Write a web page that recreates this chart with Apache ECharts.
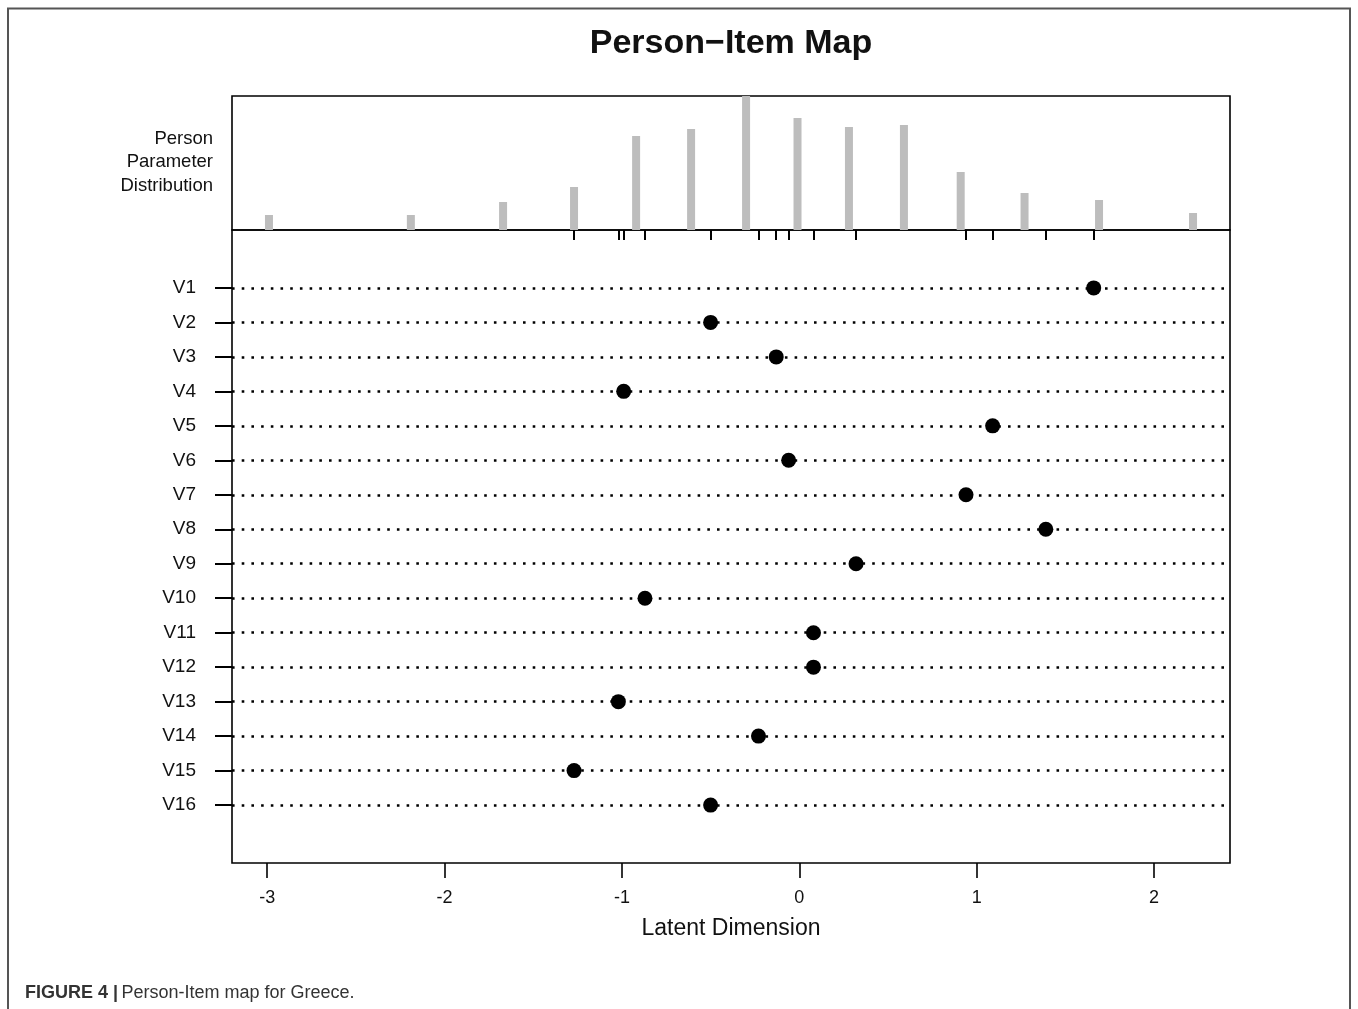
<!DOCTYPE html>
<html>
<head>
<meta charset="utf-8">
<script src="https://cdn.jsdelivr.net/npm/echarts@6/dist/echarts.min.js"></script>
<style>
  html, body { margin: 0; padding: 0; background: #fff; }
  #chart { width: 1358px; height: 1009px; }
</style>
</head>
<body>
<div id="chart"></div>
<script>
// ---- data ----
const itemNames = ['V1','V2','V3','V4','V5','V6','V7','V8','V9','V10','V11','V12','V13','V14','V15','V16'];
const itemLocations = [1.66, -0.50, -0.13, -0.99, 1.09, -0.06, 0.94, 1.39, 0.32, -0.87, 0.08, 0.08, -1.02, -0.23, -1.27, -0.50];
const personParams = [-2.99, -2.19, -1.67, -1.27, -0.92, -0.61, -0.30, -0.01, 0.28, 0.59, 0.91, 1.27, 1.69, 2.22];
const personFreq = [15, 15, 28, 43, 94, 101, 134, 112, 103, 105, 58, 37, 30, 17];
const xTicks = [-3, -2, -1, 0, 1, 2];

// axis range: person parameter range extended by 4% on each side
const pMin = Math.min(...personParams), pMax = Math.max(...personParams);
const ext = (pMax - pMin) * 0.04;
const xMin = pMin - ext, xMax = pMax + ext;
const nItems = itemNames.length;
const yExt = (nItems + 1) * 0.04;
const itemIdx = itemNames.map((_, i) => i + 1);

const FONT = '"Liberation Sans", Arial, sans-serif';
const chart = echarts.init(document.getElementById('chart'));

chart.setOption({
  animation: false,
  backgroundColor: '#fff',
  grid: [
    { left: 232, right: 128, top: 96, height: 134, show: true, borderColor: '#000', borderWidth: 1.6, backgroundColor: 'transparent' },
    { left: 232, right: 128, top: 230, height: 633, show: true, borderColor: '#000', borderWidth: 1.6, backgroundColor: 'transparent' }
  ],
  xAxis: [
    {
      gridIndex: 0, type: 'value', min: xMin, max: xMax, position: 'bottom',
      axisLine: { show: false, onZero: false },
      splitLine: { show: false },
      axisLabel: { show: false },
      axisTick: { show: true, customValues: itemLocations, length: 10, lineStyle: { color: '#000', width: 2 } }
    },
    {
      gridIndex: 1, type: 'value', min: xMin, max: xMax, position: 'bottom',
      axisLine: { show: false, onZero: false },
      splitLine: { show: false },
      axisTick: { show: true, customValues: xTicks, length: 15, lineStyle: { color: '#000', width: 1.6 } },
      axisLabel: { customValues: xTicks, margin: 26, color: '#111', fontSize: 18, fontFamily: FONT,
                   formatter: v => String(v) },
      name: 'Latent Dimension', nameLocation: 'middle', nameGap: 54,
      nameTextStyle: { color: '#111', fontSize: 23, fontFamily: FONT }
    }
  ],
  yAxis: [
    {
      gridIndex: 0, type: 'value', min: 0, max: Math.max(...personFreq),
      axisLine: { show: false, onZero: false }, axisTick: { show: false }, axisLabel: { show: false }, splitLine: { show: false }
    },
    {
      gridIndex: 1, type: 'value', inverse: true, min: -yExt, max: nItems + 1 + yExt, position: 'left',
      axisLine: { show: false, onZero: false }, splitLine: { show: false },
      axisTick: { show: true, customValues: itemIdx, length: 17, lineStyle: { color: '#000', width: 2 } },
      axisLabel: { customValues: itemIdx, margin: 36, color: '#111', fontSize: 19, fontFamily: FONT,
                   formatter: v => itemNames[Math.round(v) - 1] || '' }
    }
  ],
  series: [
    {
      type: 'bar', xAxisIndex: 0, yAxisIndex: 0, barWidth: 8,
      itemStyle: { color: '#bdbdbd' },
      data: personParams.map((p, i) => [p, personFreq[i]])
    },
    {
      type: 'lines', coordinateSystem: 'cartesian2d', xAxisIndex: 1, yAxisIndex: 1,
      lineStyle: { color: '#000', width: 2.6, type: [2.6, 7.1], opacity: 1, cap: 'butt' },
      silent: true,
      data: itemIdx.map(i => ({ coords: [[xMin, i], [xMax, i]] }))
    },
    {
      type: 'scatter', xAxisIndex: 1, yAxisIndex: 1, symbol: 'circle', symbolSize: 15,
      itemStyle: { color: '#000', opacity: 1 },
      z: 5,
      data: itemLocations.map((x, i) => [x, i + 1])
    }
  ],
  graphic: [
    { type: 'polyline', shape: { points: [[8, 1009], [8, 8.5], [1350, 8.5], [1350, 1009]] },
      style: { stroke: '#555', lineWidth: 2, fill: null } },
    { type: 'text', x: 731, y: 44,
      style: { text: 'Person\u2212Item Map', font: 'bold 34px ' + FONT, fill: '#111',
               textAlign: 'center', textVerticalAlign: 'middle' } },
    { type: 'text', x: 213, y: 127,
      style: { text: 'Person\nParameter\nDistribution', font: '18.5px ' + FONT, fill: '#111',
               textAlign: 'right', textVerticalAlign: 'top', lineHeight: 23.5 } },
    { type: 'text', x: 25, y: 993,
      style: {
        text: '{b|FIGURE 4 |} {r|Person-Item map for Greece.}',
        textVerticalAlign: 'middle',
        rich: {
          b: { font: 'bold 18px ' + FONT, fill: '#333' },
          r: { font: '18px ' + FONT, fill: '#333' }
        }
      } }
  ]
});
</script>
</body>
</html>
